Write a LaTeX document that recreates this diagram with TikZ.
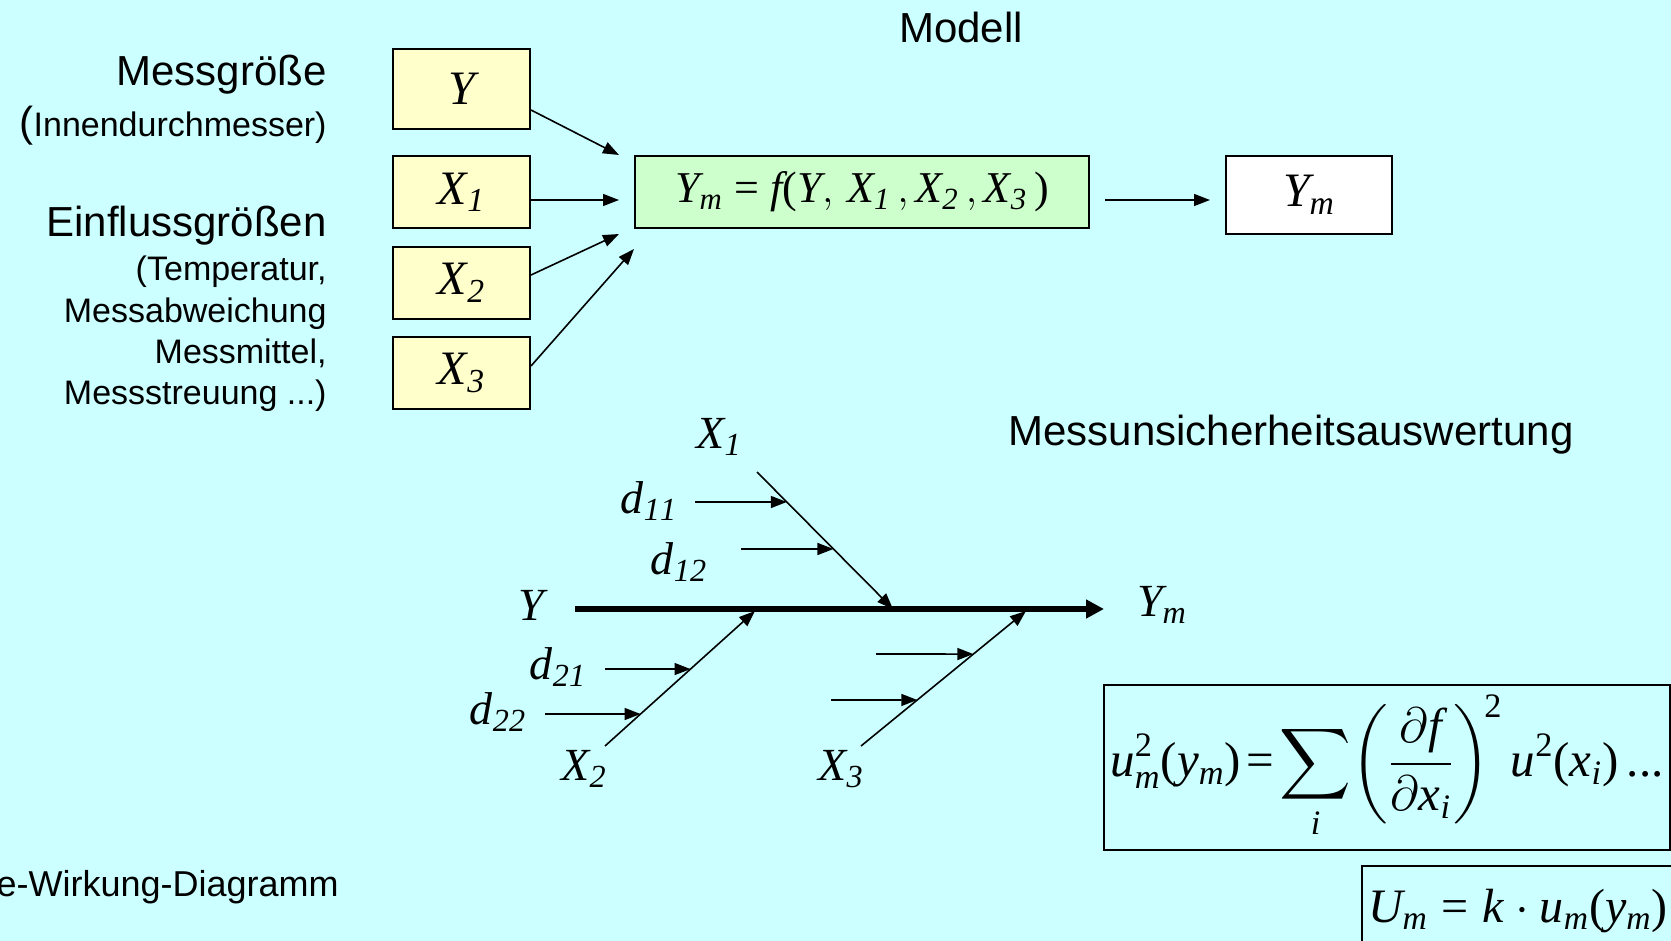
\documentclass[tikz,border=0pt]{standalone}
\usepackage{exscale}
\usepackage[no-math]{fontspec}
\setmainfont{Liberation Sans}
\newfontfamily\timesfam[NFSSFamily=lsr]{Liberation Serif}
\DeclareSymbolFont{tmsletters}{TU}{lsr}{m}{it}
\DeclareSymbolFont{tmsupright}{TU}{lsr}{m}{n}
\DeclareMathAlphabet{\mathti}{TU}{lsr}{m}{it}
\DeclareMathSymbol{u}{\mathalpha}{tmsletters}{`u}
\DeclareMathSymbol{m}{\mathalpha}{tmsletters}{`m}
\DeclareMathSymbol{y}{\mathalpha}{tmsletters}{`y}
\DeclareMathSymbol{x}{\mathalpha}{tmsletters}{`x}
\DeclareMathSymbol{i}{\mathalpha}{tmsletters}{`i}
\DeclareMathSymbol{f}{\mathalpha}{tmsletters}{`f}
\DeclareMathSymbol{k}{\mathalpha}{tmsletters}{`k}
\DeclareMathSymbol{d}{\mathalpha}{tmsletters}{`d}
\DeclareMathSymbol{U}{\mathalpha}{tmsletters}{`U}
\DeclareMathSymbol{X}{\mathalpha}{tmsletters}{`X}
\DeclareMathSymbol{Y}{\mathalpha}{tmsletters}{`Y}
\DeclareMathSymbol{2}{\mathalpha}{tmsupright}{`2}
\DeclareMathSymbol{(}{\mathopen}{tmsupright}{`(}
\DeclareMathSymbol{)}{\mathclose}{tmsupright}{`)}
\DeclareMathSymbol{=}{\mathrel}{tmsupright}{`=}
\usetikzlibrary{arrows.meta, calc}
\definecolor{slidecyan}{HTML}{CCFFFF}
\definecolor{inputyellow}{HTML}{FFFFCC}
\definecolor{modelgreen}{HTML}{CCFFCC}

\begin{document}
\begin{tikzpicture}[
    x=0.5pt, y=-0.5pt,
    box/.style={rectangle, draw, line width=1pt, fill=inputyellow, minimum width=68.5pt, minimum height=36pt, inner sep=0pt, font=\fontsize{24}{28}\selectfont},
    title/.style={inner sep=0pt, font=\fontsize{21}{25}\selectfont},
    note/.style={inner sep=0pt, align=right, font=\fontsize{17}{20.7}\selectfont},
    lbl/.style={inner sep=0pt, font=\fontsize{23}{27}\selectfont},
    formula/.style={rectangle, draw, line width=1pt, inner sep=0pt, font=\fontsize{24.5}{29}\selectfont},
    arrow/.style={-{Triangle[length=8pt, width=6pt]}, line width=0.8pt},
    spine/.style={-{Triangle[length=9pt, width=9pt]}, line width=3pt}
]
\fill[slidecyan] (0,0) rectangle (1671,941);
\useasboundingbox (0,0) rectangle (1671,941);

% Modell
\node[title] (modell) at (961,27) {Modell};
\node[title, anchor=east] (mess) at (327,75) {Messgröße};
\node[note, anchor=east] (innen) at (327,126) {{\fontsize{21}{25}\selectfont(}Innendurchmesser)};
\node[title, anchor=east] (einfl) at (327,226) {Einflussgrößen};
\node[note, anchor=east] (einflnote) at (327,334) {(Temperatur,\\Messabweichung\\Messmittel,\\Messstreuung ...)};

\node[box, minimum height=40pt] (ybox) at (461.5,89) {$Y$};
\node[box] (x1box) at (461.5,192.5) {$X_{\mathti{1}}$};
\node[box] (x2box) at (461.5,283) {$X_{\mathti{2}}$};
\node[box] (x3box) at (461.5,373) {$X_{\mathti{3}}$};
\node[box, fill=modelgreen, minimum width=227pt, font=\fontsize{22}{26}\selectfont] (model) at (862,192) {$Y_m = f(Y,\, X_{\mathti{1}}\,, X_{\mathti{2}}\,, X_{\mathti{3}}\,)$};
\node[box, fill=white, minimum width=83pt, minimum height=39pt] (ymbox) at (1309,195) {$Y_m$};

\draw[arrow] ([yshift=-10.5pt]ybox.east) -- ([xshift=-7.5pt]model.north west);
\draw[arrow] ([yshift=-3.75pt]x1box.east) -- ([xshift=-7.5pt, yshift=-4pt]model.west);
\draw[arrow] ([yshift=4pt]x2box.east) -- ([xshift=-7.5pt, yshift=-2.5pt]model.south west);
\draw[arrow] ([yshift=3.5pt]x3box.east) -- ([yshift=-10pt]model.south west);
\draw[arrow] ([xshift=7.5pt, yshift=-4pt]model.east) -- ([xshift=-7.5pt, yshift=-2.5pt]ymbox.west);

% Ursache-Wirkung
\node[title] (msa) at (1291,435) {Messunsicherheitsauswertung};
\node[lbl] (fy) at (531,605) {$Y$};
\node[lbl] (fym) at (1162,605) {$Y_m$};
\node[lbl] (fx1) at (719,437) {$X_{\mathti{1}}$};
\node[lbl] (fx2) at (584,769) {$X_{\mathti{2}}$};
\node[lbl] (fx3) at (841,769) {$X_{\mathti{3}}$};
\node[lbl] (fd11) at (649,501) {$d_{\mathti{11}}$};
\node[lbl] (fd12) at (679,562) {$d_{\mathti{12}}$};
\node[lbl] (fd21) at (558,667) {$d_{\mathti{21}}$};
\node[lbl] (fd22) at (498,712) {$d_{\mathti{22}}$};

\coordinate (sp0) at (575,609);
\coordinate (sp1) at (1104,609);
\coordinate (b1s) at (757,472);
\coordinate (b1e) at (893,609);
\coordinate (b2s) at (605,746);
\coordinate (b2e) at (755,611);
\coordinate (b3s) at (861,746);
\coordinate (b3e) at (1026,611);
\coordinate (d11s) at (695,502);
\coordinate (d12s) at (741,549);
\coordinate (d21s) at (605,669);
\coordinate (d22s) at (545,714);
\coordinate (d31s) at (876,654);
\coordinate (d32s) at (831,700);

\draw[spine] (sp0) -- (sp1);
\draw[arrow] (b1s) -- (b1e);
\draw[arrow] (b2s) -- (b2e);
\draw[arrow] (b3s) -- (b3e);
\draw[arrow] (d11s) -- ($(b1s)!0.219!(b1e)$);
\draw[arrow] (d12s) -- ($(b1s)!0.562!(b1e)$);
\draw[arrow] (d21s) -- ($(b2s)!0.57!(b2e)$);
\draw[arrow] (d22s) -- ($(b2s)!0.237!(b2e)$);
\draw[arrow] (d31s) -- ($(b3s)!0.681!(b3e)$);
\draw[arrow] (d32s) -- ($(b3s)!0.341!(b3e)$);

\node[formula, anchor=north west, minimum width=283pt, minimum height=82.5pt] (unc) at (1103,684) {$\displaystyle u_m^2(y_m)\!=\!\sum_i\!\left(\frac{\partial f}{\partial x_i}\right)^{\!2} u^2(x_i)\,\mbox{\timesfam...}$};
\node[formula, anchor=north west, minimum height=45pt, text width=160pt, inner xsep=3pt, align=left, font=\fontsize{24}{28}\selectfont] (expand) at (1361,865) {$U_m = k\cdot u_m(y_m)$};

\node[note, anchor=east, font=\fontsize{18}{21}\selectfont] (caption) at (339,887) {e-Wirkung-Diagramm};
\end{tikzpicture}
\end{document}
